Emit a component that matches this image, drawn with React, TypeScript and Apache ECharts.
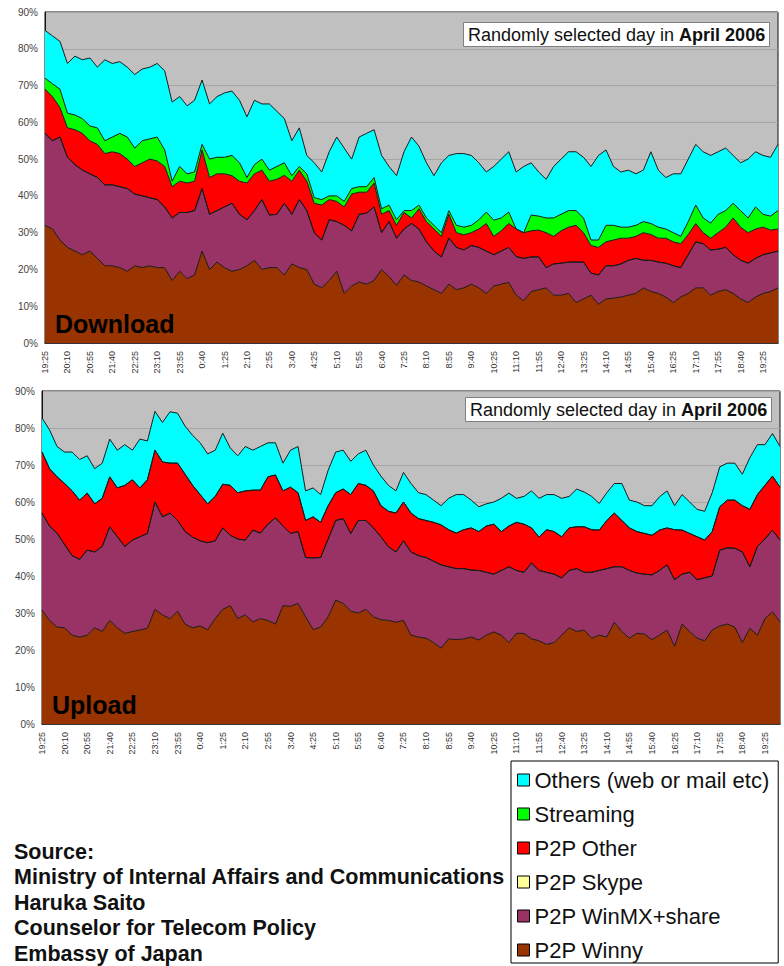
import React, { useEffect, useRef } from "react";
import * as echarts from "echarts";

// Time of day, every 15 minutes, starting 19:25 (tick label every 3rd entry)
const times = [
  "19:25","19:40","19:55","20:10","20:25","20:40","20:55","21:10","21:25","21:40",
  "21:55","22:10","22:25","22:40","22:55","23:10","23:25","23:40","23:55","0:10",
  "0:25","0:40","0:55","1:10","1:25","1:40","1:55","2:10","2:25","2:40",
  "2:55","3:10","3:25","3:40","3:55","4:10","4:25","4:40","4:55","5:10",
  "5:25","5:40","5:55","6:10","6:25","6:40","6:55","7:10","7:25","7:40",
  "7:55","8:10","8:25","8:40","8:55","9:10","9:25","9:40","9:55","10:10",
  "10:25","10:40","10:55","11:10","11:25","11:40","11:55","12:10","12:25","12:40",
  "12:55","13:10","13:25","13:40","13:55","14:10","14:25","14:40","14:55","15:10",
  "15:25","15:40","15:55","16:10","16:25","16:40","16:55","17:10","17:25","17:40",
  "17:55","18:10","18:25","18:40","18:55","19:10","19:25","19:40","19:55",
];

const yTicks = [0, 10, 20, 30, 40, 50, 60, 70, 80, 90];

// DOWNLOAD: cumulative share (%) at the upper edge of each layer
const dlWinnyTop = [
  32,31,28,26,25,24,25,23,21,21,
  20.5,19.5,21,20.5,21,20.5,20.5,17,19.5,17.5,
  18.5,25,20,22,20.5,19.5,20,21,22.5,20,
  20.5,20.5,18.5,21.5,20.5,20,16,15,17,19.5,
  13.5,15.5,16.6,16,17,20,18,15.7,18.5,17,
  16.6,15.5,14.5,13.5,16,14.5,15,16,15,13.5,
  15.5,16,16.5,13,11.5,14,14.5,15,13,13,
  13.5,11,12,13,10.5,12,12.2,12.5,13,13.5,
  15,14,13.5,12.5,11,12.5,13.5,15,15,13,
  14,14.5,13.5,12,11,12.5,13.5,14,15,
];
const dlWinmxTop = [
  57,55,56,50.5,48.5,47,46,45,43,43,
  42.5,42,40.5,40,39.5,39,37,34,35.5,35.5,
  36,42,35,36,37,38,35,33.5,36,39,
  34.8,35,38,35,39,36,30,28,33.5,33,
  32,30.5,35,35.3,37,30,33,28.5,31,32.5,
  31,27.5,25,23.4,28.5,26,25.3,26.5,26,25,
  24,25,26,23.5,23,23.4,23.4,20.5,21.5,21.7,
  22,22,22,19,18.5,21,21,21.5,22.5,23,
  22.5,22.5,22,21.7,21,20.5,24,27.5,27,25.3,
  25.5,26,24,22.5,21.7,23,24,24.5,25,
];
const dlOtherTop = [
  69,67,64,58.5,58,57,55,54,51.5,52,
  51.5,50,48,49,50,49.5,48,42.5,44,43.5,
  44,52.5,45,46,46,45.5,44,43.5,46,47,
  44,44.5,45.6,44,47,44,38,37.5,39,38.5,
  37,40.5,41,41,43.5,35,36,32,35.5,34,
  36.5,33,31,29,35,30,29.4,30,31,32.5,
  29,30.5,32.5,31,30,30.5,30.7,30,29,30.5,
  31.5,32,30,26.5,26,27.5,28,28.5,28.5,29,
  30,29.5,28.5,28.5,27.5,27,29.5,32.5,30,28.5,
  30,31.5,34,31.5,30,31,31.5,30.7,31,
];
const dlStreamTop = [
  72,70.5,69,62.5,62,61,59,58.5,55,56,
  57,56,53,55,55.5,56,52.5,44,48,46,
  46.5,54,50,50.5,50.5,51,49,45,48.5,50,
  47,48,49,45.5,48,46,39.5,39,40,40,
  38.5,42,42.5,42.5,45,36.5,37.5,33.5,36,36,
  37.5,34,32,30,36,32,31.5,32,33.5,35.6,
  33.4,34,35.6,31,30,34.8,34.5,34,34,35,
  36,36,34,28,28,32,32,31.5,31.5,32,
  33,32.5,31.5,31,30,29,33,37.5,34,32.6,
  35,36,38,36,34,37,35,34.5,36,
];
const dlTotal = [
  85,83.5,82,76,78,77,77.5,75,77,76,
  76.5,75,73,74.5,75,76,74,65.5,67,64.5,
  66,71.5,65,67,68,68.5,66,61.5,66,65,
  65,63,61,55,58.5,51,49,46.5,52,56,
  53,50,56,57,58,51,48,45.5,52,56,
  53.5,49,45.5,49,51,51.5,51.5,51,49,46.5,
  48,50,52,46.5,48,49,46.5,44.5,48,50,
  52,52,50.5,48,51,52.5,48,46.5,47,46,
  47,52,47,45,46,46,50,54,52,51,
  52,53,51,49,50,52,51,50.5,54,
];

// UPLOAD: cumulative share (%) at the upper edge of each layer
const ulWinnyTop = [
  30.8,28,26.2,26,24,23.5,24,26,25,28,
  26,24.5,25,25.4,25.9,31,29.5,28.5,30.5,27,
  26,26.5,25.5,28.5,31,32,28.5,29.5,27.6,28.5,
  28,27,32,31.8,32.6,29,25.5,26.2,29,33.5,
  32.6,30.5,30,31,29,28.2,28,27.5,28,24,
  23.5,23.2,22,20.5,23,22.8,23,23.5,22.7,24,
  24.9,24,22,24.5,24.5,23,22.5,21.5,22,24,
  26,25,25.4,23.2,24,23.5,27.5,25,23.2,24.5,
  24.3,22.8,24,25.4,21,27,25,23.2,22.5,25.4,
  26.5,27,26.2,22,25.9,24,28.5,30.3,27.6,
];
const ulWinmxTop = [
  57,53.5,51.6,48.5,45.5,44.5,47,46.5,48,53.3,
  50.6,48,49.7,50.6,51.5,60,56,57,55,52,
  50.5,49.5,49,49.5,53,51,50,49.7,52.4,51.6,
  54,55.7,53.5,51.5,52,45,44.9,45,50,55,
  55.5,51.5,55,55,53,50.6,47.9,46.5,49.5,46.5,
  45.5,45,44,43,42.5,42,42,41.6,41.5,41,
  40.5,41.5,42.5,41.5,41,43.5,41.5,41,40.5,39.5,
  41.5,42,41,41,41.5,42,42.5,42.5,41.5,40.8,
  40.5,40.3,41.5,43,39,40.5,41,39,39.5,40,
  47,47.6,47.5,46.5,42.5,48,50,52.4,49.7,
];
const ulOtherTop = [
  73.5,69,66.8,65,63,60.5,62.4,59.5,61,66.8,
  63.8,64.5,66,63.8,66,74,70.8,70.5,70.5,67.5,
  64.5,62,59.5,61.5,64.8,64.5,62.5,63,63.2,63.2,
  66.8,67.3,63,64,62.5,55,56,54.5,59,62.5,
  63.5,62,65,64.5,63,59,57.5,57,60,57,
  55.5,55,54.5,53.8,52.5,51.6,52.5,53,52,53.5,
  54,52,53.5,54.5,54,53,50.5,52.5,52,50.6,
  53,53.3,53.3,52.5,52.4,55,57,55,53,52,
  51.5,51,52.4,53,52.5,52.4,51.5,50.6,49.7,52,
  58.7,60.5,60.5,59,58,62,64.5,67,64,
];
const ulTotal = [
  82.7,79.5,75,73.5,73.5,71.5,72.5,69,70.5,77,
  74,75.5,74,77,76.5,84.5,81.5,84.4,84,80.5,
  78,76,73,74,78.6,74.6,72.5,75,74,75,
  76,76,70.5,74,75,63,63.8,62,68.6,73.5,
  74,71,73,74,70,67,64.5,63,68,65,
  62.5,62,60.5,59,61,62,62,60.5,58.7,59.5,
  60,61,62.4,61,61.5,63,61,62,62,61,
  61.5,63.5,62.7,61.5,59.6,62.5,65,65,60.5,60,
  59,59,61.4,63,59,62,60,58,57.5,62.5,
  69.5,70.5,70.5,67.5,72,75.5,75.5,78.5,75,
];

// Layers with no visible share in the picture (P2P Skype both ways, Streaming upload)
const noShare = [
  0,0,0,0,0,0,0,0,0,0, 0,0,0,0,0,0,0,0,0,0,
  0,0,0,0,0,0,0,0,0,0, 0,0,0,0,0,0,0,0,0,0,
  0,0,0,0,0,0,0,0,0,0, 0,0,0,0,0,0,0,0,0,0,
  0,0,0,0,0,0,0,0,0,0, 0,0,0,0,0,0,0,0,0,0,
  0,0,0,0,0,0,0,0,0,0, 0,0,0,0,0,0,0,0,0,
];

const names = [
  "Others (web or mail etc)",
  "Streaming",
  "P2P Other",
  "P2P Skype",
  "P2P WinMX+share",
  "P2P Winny",
];
const colors = ["#00FFFF", "#00FF00", "#FF0000", "#FFFF99", "#993366", "#993300"];

const sourceLines = [
  "Source:",
  "Ministry of Internal Affairs and Communications",
  "Haruka Saito",
  "Counselor for Telecom Policy",
  "Embassy of Japan",
];

const FONT = '"Liberation Sans", Arial, Helvetica, sans-serif';

const diff = (top: number[], base: number[]) =>
  top.map((v, i) => Math.round((v - base[i]) * 100) / 100);

function layer(name: string, data: number[], stack: string, ax: number) {
  const color = colors[names.indexOf(name)];
  return {
    name,
    type: "line",
    stack,
    xAxisIndex: ax,
    yAxisIndex: ax,
    data,
    symbol: "none",
    showSymbol: false,
    smooth: false,
    itemStyle: { color },
    lineStyle: { color: "#1a1a1a", width: 1 },
    areaStyle: { color, opacity: 1 },
    emphasis: { disabled: true },
    silent: true,
  };
}

export default function App() {
  const ref = useRef<HTMLDivElement>(null);

  useEffect(() => {
    if (!ref.current) return;
    const chart = echarts.init(ref.current, undefined, { renderer: "svg" });

    const dl = [
      layer("P2P Winny", dlWinnyTop, "dl", 0),
      layer("P2P WinMX+share", diff(dlWinmxTop, dlWinnyTop), "dl", 0),
      layer("P2P Skype", noShare, "dl", 0),
      layer("P2P Other", diff(dlOtherTop, dlWinmxTop), "dl", 0),
      layer("Streaming", diff(dlStreamTop, dlOtherTop), "dl", 0),
      layer("Others (web or mail etc)", diff(dlTotal, dlStreamTop), "dl", 0),
    ];
    const ul = [
      layer("P2P Winny", ulWinnyTop, "ul", 1),
      layer("P2P WinMX+share", diff(ulWinmxTop, ulWinnyTop), "ul", 1),
      layer("P2P Skype", noShare, "ul", 1),
      layer("P2P Other", diff(ulOtherTop, ulWinmxTop), "ul", 1),
      layer("Streaming", noShare, "ul", 1),
      layer("Others (web or mail etc)", diff(ulTotal, ulOtherTop), "ul", 1),
    ];

    const xAxisBase = (gi: number) => ({
      type: "category",
      gridIndex: gi,
      data: times,
      boundaryGap: false,
      axisTick: { show: false },
      axisLine: { show: true, lineStyle: { color: "#111", width: 1.5 } },
      axisLabel: {
        interval: 2,
        rotate: 90,
        fontSize: 9,
        color: "#333",
        margin: 8,
        fontFamily: FONT,
      },
      splitLine: { show: false },
    });
    const yAxisBase = (gi: number) => ({
      type: "value",
      gridIndex: gi,
      min: yTicks[0],
      max: yTicks[yTicks.length - 1],
      interval: 10,
      axisLine: { show: true, lineStyle: { color: "#111", width: 1 } },
      axisTick: { show: false },
      axisLabel: {
        formatter: "{value}%",
        fontSize: 10,
        color: "#444",
        margin: 7,
        fontFamily: FONT,
      },
      splitLine: { show: true, lineStyle: { color: "#a6a6a6", width: 1 } },
    });

    const boxTitle = (top: number, left: number) => ({
      text: "{a|Randomly selected day in }{b|April 2006}",
      left,
      top,
      padding: [4, 5, 3, 5],
      backgroundColor: "#ffffff",
      borderColor: "#808080",
      borderWidth: 1,
      textStyle: {
        rich: {
          a: { fontSize: 18, fontWeight: "normal", color: "#111", fontFamily: FONT, lineHeight: 20 },
          b: { fontSize: 18, fontWeight: "bold", color: "#111", fontFamily: FONT, lineHeight: 20 },
        },
      },
    });
    const bigTitle = (text: string, left: number, top: number) => ({
      text,
      left,
      top,
      padding: 0,
      textStyle: { fontSize: 25, fontWeight: "bold", color: "#000", fontFamily: FONT, lineHeight: 26 },
    });

    chart.setOption({
      animation: false,
      backgroundColor: "#ffffff",
      title: [
        boxTitle(21, 463),
        boxTitle(396, 465),
        bigTitle("Download", 55, 311),
        bigTitle("Upload", 52, 692),
      ],
      grid: [
        {
          left: 45, top: 12, width: 733, height: 331,
          show: true, backgroundColor: "#c0c0c0", borderColor: "#111", borderWidth: 1,
        },
        {
          left: 42, top: 391, width: 738, height: 333,
          show: true, backgroundColor: "#c0c0c0", borderColor: "#111", borderWidth: 1,
        },
      ],
      xAxis: [xAxisBase(0), xAxisBase(1)],
      yAxis: [yAxisBase(0), yAxisBase(1)],
      legend: {
        orient: "vertical",
        left: 511,
        top: 761,
        data: names.map((n, i) => ({
          name: n,
          itemStyle: { color: colors[i], borderColor: "#000", borderWidth: 1 },
        })),
        icon: "rect",
        itemWidth: 12,
        itemHeight: 12,
        itemGap: 12,
        padding: [8, 9, 2, 6],
        borderColor: "#000",
        borderWidth: 1,
        backgroundColor: "#ffffff",
        selectedMode: false,
        textStyle: { fontSize: 22, color: "#111", fontFamily: FONT },
      },
      graphic: [
        {
          type: "text",
          left: 14,
          top: 839,
          style: {
            text: sourceLines.join("\n"),
            font: `bold 21.5px ${FONT}`,
            fill: "#111",
            lineHeight: 25.5,
          },
        },
      ],
      series: [...dl, ...ul],
    });

    return () => chart.dispose();
  }, []);

  return (
    <div
      ref={ref}
      style={{ position: "absolute", left: 0, top: 0, width: 784, height: 966 }}
    />
  );
}
